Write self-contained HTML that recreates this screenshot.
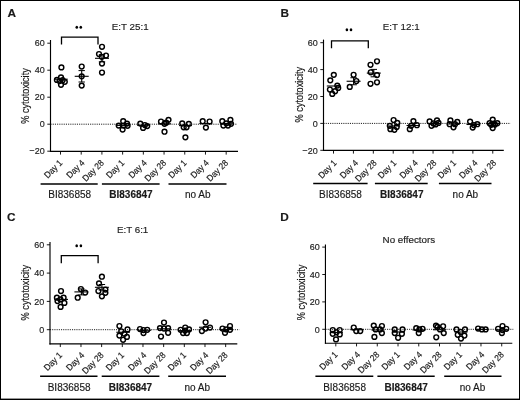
<!DOCTYPE html>
<html><head><meta charset="utf-8"><title>Cytotoxicity figure</title>
<style>
html,body{margin:0;padding:0;background:#fff;}
body{width:520px;height:400px;overflow:hidden;}
svg{display:block;will-change:transform;}
svg text{font-family:"Liberation Sans", sans-serif;fill:#1a1a1a;}
</style></head>
<body>
<svg width="520" height="400" viewBox="0 0 520 400">
<defs><filter id="sb" x="-5%" y="-5%" width="110%" height="110%"><feGaussianBlur stdDeviation="0.3"/></filter></defs>
<rect x="0" y="0" width="520" height="400" fill="#fff"/>
<g stroke="#000" fill="none" stroke-linecap="butt" filter="url(#sb)">
<text stroke="#1a1a1a" stroke-width="0.15" transform="translate(7.6 16.8)" font-size="11.8" text-anchor="start" font-weight="bold" fill="#000">A</text>
<text stroke="#1a1a1a" stroke-width="0.15" transform="translate(130.2 29.6) scale(1 0.95)" font-size="9.8" text-anchor="middle" font-weight="normal" >E:T 25:1</text>
<line x1="50.5" y1="40" x2="50.5" y2="151.97" stroke-width="1.15" />
<line x1="47.3" y1="43.2" x2="50.5" y2="43.2" stroke-width="0.9" />
<text stroke="#1a1a1a" stroke-width="0.15" transform="translate(44.7 46.4) scale(1 1.1)" font-size="9.0" text-anchor="end" font-weight="normal" >60</text>
<line x1="47.3" y1="70.2" x2="50.5" y2="70.2" stroke-width="0.9" />
<text stroke="#1a1a1a" stroke-width="0.15" transform="translate(44.7 73.4) scale(1 1.1)" font-size="9.0" text-anchor="end" font-weight="normal" >40</text>
<line x1="47.3" y1="97.2" x2="50.5" y2="97.2" stroke-width="0.9" />
<text stroke="#1a1a1a" stroke-width="0.15" transform="translate(44.7 100.4) scale(1 1.1)" font-size="9.0" text-anchor="end" font-weight="normal" >20</text>
<line x1="47.3" y1="124.2" x2="50.5" y2="124.2" stroke-width="0.9" />
<text stroke="#1a1a1a" stroke-width="0.15" transform="translate(44.7 127.4) scale(1 1.1)" font-size="9.0" text-anchor="end" font-weight="normal" >0</text>
<line x1="47.3" y1="151.2" x2="50.5" y2="151.2" stroke-width="0.9" />
<text stroke="#1a1a1a" stroke-width="0.15" transform="translate(44.7 154.4) scale(1 1.1)" font-size="9.0" text-anchor="end" font-weight="normal" >−20</text>
<text stroke="#1a1a1a" stroke-width="0.15" transform="translate(29.3 96) rotate(-90) scale(1 1.13)" font-size="9.2" text-anchor="middle" font-weight="normal" >% cytotoxicity</text>
<line x1="49.92" y1="151.4" x2="238" y2="151.4" stroke-width="1.15" />
<line x1="50.5" y1="124.2" x2="237" y2="124.2" stroke-width="0.9" stroke-dasharray="1.1 1.1"/>
<line x1="60.5" y1="151.4" x2="60.5" y2="154.6" stroke-width="0.9" />
<text stroke="#1a1a1a" stroke-width="0.15" transform="translate(63 163.4) rotate(-45) scale(1 1.08)" font-size="8.3" text-anchor="end" font-weight="normal" >Day 1</text>
<line x1="81.21" y1="151.4" x2="81.21" y2="154.6" stroke-width="0.9" />
<text stroke="#1a1a1a" stroke-width="0.15" transform="translate(85.31 163.4) rotate(-45) scale(1 1.08)" font-size="8.3" text-anchor="end" font-weight="normal" >Day 4</text>
<line x1="101.92" y1="151.4" x2="101.92" y2="154.6" stroke-width="0.9" />
<text stroke="#1a1a1a" stroke-width="0.15" transform="translate(104.62 163.4) rotate(-45) scale(1 1.08)" font-size="8.3" text-anchor="end" font-weight="normal" >Day 28</text>
<line x1="122.63" y1="151.4" x2="122.63" y2="154.6" stroke-width="0.9" />
<text stroke="#1a1a1a" stroke-width="0.15" transform="translate(125.13 163.4) rotate(-45) scale(1 1.08)" font-size="8.3" text-anchor="end" font-weight="normal" >Day 1</text>
<line x1="143.34" y1="151.4" x2="143.34" y2="154.6" stroke-width="0.9" />
<text stroke="#1a1a1a" stroke-width="0.15" transform="translate(147.44 163.4) rotate(-45) scale(1 1.08)" font-size="8.3" text-anchor="end" font-weight="normal" >Day 4</text>
<line x1="164.05" y1="151.4" x2="164.05" y2="154.6" stroke-width="0.9" />
<text stroke="#1a1a1a" stroke-width="0.15" transform="translate(166.75 163.4) rotate(-45) scale(1 1.08)" font-size="8.3" text-anchor="end" font-weight="normal" >Day 28</text>
<line x1="184.76" y1="151.4" x2="184.76" y2="154.6" stroke-width="0.9" />
<text stroke="#1a1a1a" stroke-width="0.15" transform="translate(187.26 163.4) rotate(-45) scale(1 1.08)" font-size="8.3" text-anchor="end" font-weight="normal" >Day 1</text>
<line x1="205.47" y1="151.4" x2="205.47" y2="154.6" stroke-width="0.9" />
<text stroke="#1a1a1a" stroke-width="0.15" transform="translate(209.57 163.4) rotate(-45) scale(1 1.08)" font-size="8.3" text-anchor="end" font-weight="normal" >Day 4</text>
<line x1="226.18" y1="151.4" x2="226.18" y2="154.6" stroke-width="0.9" />
<text stroke="#1a1a1a" stroke-width="0.15" transform="translate(228.88 163.4) rotate(-45) scale(1 1.08)" font-size="8.3" text-anchor="end" font-weight="normal" >Day 28</text>
<line x1="40.6" y1="184" x2="97.7" y2="184" stroke-width="1.5" />
<text stroke="#1a1a1a" stroke-width="0.15" transform="translate(69.7 198)" font-size="10.0" text-anchor="middle" font-weight="normal" >BI836858</text>
<line x1="101.9" y1="184" x2="159.6" y2="184" stroke-width="1.5" />
<text stroke="#1a1a1a" stroke-width="0.15" transform="translate(131 198)" font-size="10.0" text-anchor="middle" font-weight="bold" >BI836847</text>
<line x1="168.5" y1="184" x2="226.5" y2="184" stroke-width="1.5" />
<text stroke="#1a1a1a" stroke-width="0.15" transform="translate(197.7 198)" font-size="10.0" text-anchor="middle" font-weight="normal" >no Ab</text>
<polyline points="61.5,44.6 61.5,37.1 98,37.1 98,44.6" fill="none" stroke-width="1.3"/>
<ellipse cx="76.8" cy="27.25" rx="1.3" ry="1.55" fill="#000" stroke="none"/>
<ellipse cx="80.8" cy="27.25" rx="1.3" ry="1.55" fill="#000" stroke="none"/>
<line x1="54.7" y1="79.2" x2="67.7" y2="79.2" stroke-width="1.1" />
<line x1="74.7" y1="76.3" x2="88.7" y2="76.3" stroke-width="1.1" />
<line x1="81.7" y1="70.6" x2="81.7" y2="82" stroke-width="1.1" />
<line x1="78.5" y1="70.6" x2="84.9" y2="70.6" stroke-width="1.0" />
<line x1="78.5" y1="82" x2="84.9" y2="82" stroke-width="1.0" />
<line x1="95" y1="58.3" x2="109" y2="58.3" stroke-width="1.1" />
<line x1="102" y1="54.7" x2="102" y2="61.9" stroke-width="1.1" />
<line x1="98.8" y1="54.7" x2="105.2" y2="54.7" stroke-width="1.0" />
<line x1="98.8" y1="61.9" x2="105.2" y2="61.9" stroke-width="1.0" />
<line x1="116.5" y1="125.4" x2="129.5" y2="125.4" stroke-width="1.1" />
<line x1="137" y1="125.2" x2="150" y2="125.2" stroke-width="1.1" />
<line x1="158" y1="123.8" x2="171" y2="123.8" stroke-width="1.1" />
<line x1="179" y1="125.6" x2="192" y2="125.6" stroke-width="1.1" />
<line x1="199.3" y1="123.6" x2="212.3" y2="123.6" stroke-width="1.1" />
<line x1="220" y1="123.8" x2="233" y2="123.8" stroke-width="1.1" />
<circle cx="61.4" cy="67.4" r="2.4" stroke-width="1.45"/>
<circle cx="56.9" cy="79.9" r="2.4" stroke-width="1.45"/>
<circle cx="61" cy="77.3" r="2.4" stroke-width="1.45"/>
<circle cx="64.8" cy="81.8" r="2.4" stroke-width="1.45"/>
<circle cx="61" cy="84.8" r="2.4" stroke-width="1.45"/>
<circle cx="59.5" cy="81" r="2.4" stroke-width="1.45"/>
<circle cx="62.6" cy="80.2" r="2.4" stroke-width="1.45"/>
<circle cx="81.7" cy="66.5" r="2.4" stroke-width="1.45"/>
<circle cx="81.7" cy="76.3" r="2.4" stroke-width="1.45"/>
<circle cx="81.7" cy="85.6" r="2.4" stroke-width="1.45"/>
<circle cx="102" cy="46.8" r="2.4" stroke-width="1.45"/>
<circle cx="99" cy="54" r="2.4" stroke-width="1.45"/>
<circle cx="106" cy="55.5" r="2.4" stroke-width="1.45"/>
<circle cx="102" cy="63.5" r="2.4" stroke-width="1.45"/>
<circle cx="102" cy="72.5" r="2.4" stroke-width="1.45"/>
<circle cx="101.8" cy="56.8" r="2.4" stroke-width="1.45"/>
<circle cx="118.7" cy="125.6" r="2.4" stroke-width="1.45"/>
<circle cx="123.2" cy="121.2" r="2.4" stroke-width="1.45"/>
<circle cx="127" cy="123.6" r="2.4" stroke-width="1.45"/>
<circle cx="122.6" cy="129.6" r="2.4" stroke-width="1.45"/>
<circle cx="123.5" cy="125.6" r="2.4" stroke-width="1.45"/>
<circle cx="127.6" cy="125.8" r="2.4" stroke-width="1.45"/>
<circle cx="140.3" cy="123.6" r="2.4" stroke-width="1.45"/>
<circle cx="143.1" cy="127.9" r="2.4" stroke-width="1.45"/>
<circle cx="147.2" cy="126.1" r="2.4" stroke-width="1.45"/>
<circle cx="144.9" cy="125" r="2.4" stroke-width="1.45"/>
<circle cx="161" cy="121.5" r="2.4" stroke-width="1.45"/>
<circle cx="168.5" cy="119.8" r="2.4" stroke-width="1.45"/>
<circle cx="164.5" cy="123.8" r="2.4" stroke-width="1.45"/>
<circle cx="164.5" cy="131.7" r="2.4" stroke-width="1.45"/>
<circle cx="166.2" cy="122.7" r="2.4" stroke-width="1.45"/>
<circle cx="182.2" cy="123.3" r="2.4" stroke-width="1.45"/>
<circle cx="188.8" cy="123.8" r="2.4" stroke-width="1.45"/>
<circle cx="183.7" cy="127.3" r="2.4" stroke-width="1.45"/>
<circle cx="186.5" cy="127.3" r="2.4" stroke-width="1.45"/>
<circle cx="185.4" cy="137.3" r="2.4" stroke-width="1.45"/>
<circle cx="202.7" cy="121.2" r="2.4" stroke-width="1.45"/>
<circle cx="209.6" cy="121.5" r="2.4" stroke-width="1.45"/>
<circle cx="205.9" cy="127.6" r="2.4" stroke-width="1.45"/>
<circle cx="222.3" cy="121.2" r="2.4" stroke-width="1.45"/>
<circle cx="230.4" cy="119.8" r="2.4" stroke-width="1.45"/>
<circle cx="223.4" cy="125.6" r="2.4" stroke-width="1.45"/>
<circle cx="228" cy="125.6" r="2.4" stroke-width="1.45"/>
<circle cx="231" cy="123.8" r="2.4" stroke-width="1.45"/>
<circle cx="226.3" cy="123.3" r="2.4" stroke-width="1.45"/>
<text stroke="#1a1a1a" stroke-width="0.15" transform="translate(280.6 16.9)" font-size="11.8" text-anchor="start" font-weight="bold" fill="#000">B</text>
<text stroke="#1a1a1a" stroke-width="0.15" transform="translate(401.2 29.7) scale(1 0.95)" font-size="9.8" text-anchor="middle" font-weight="normal" >E:T 12:1</text>
<line x1="323.5" y1="39.6" x2="323.5" y2="150.97" stroke-width="1.15" />
<line x1="320.3" y1="42.7" x2="323.5" y2="42.7" stroke-width="0.9" />
<text stroke="#1a1a1a" stroke-width="0.15" transform="translate(317.7 45.9) scale(1 1.1)" font-size="9.0" text-anchor="end" font-weight="normal" >60</text>
<line x1="320.3" y1="69.6" x2="323.5" y2="69.6" stroke-width="0.9" />
<text stroke="#1a1a1a" stroke-width="0.15" transform="translate(317.7 72.8) scale(1 1.1)" font-size="9.0" text-anchor="end" font-weight="normal" >40</text>
<line x1="320.3" y1="96.5" x2="323.5" y2="96.5" stroke-width="0.9" />
<text stroke="#1a1a1a" stroke-width="0.15" transform="translate(317.7 99.7) scale(1 1.1)" font-size="9.0" text-anchor="end" font-weight="normal" >20</text>
<line x1="320.3" y1="123.4" x2="323.5" y2="123.4" stroke-width="0.9" />
<text stroke="#1a1a1a" stroke-width="0.15" transform="translate(317.7 126.6) scale(1 1.1)" font-size="9.0" text-anchor="end" font-weight="normal" >0</text>
<line x1="320.3" y1="150.3" x2="323.5" y2="150.3" stroke-width="0.9" />
<text stroke="#1a1a1a" stroke-width="0.15" transform="translate(317.7 153.5) scale(1 1.1)" font-size="9.0" text-anchor="end" font-weight="normal" >−20</text>
<text stroke="#1a1a1a" stroke-width="0.15" transform="translate(302.7 94.7) rotate(-90) scale(1 1.13)" font-size="9.2" text-anchor="middle" font-weight="normal" >% cytotoxicity</text>
<line x1="322.93" y1="150.4" x2="503.8" y2="150.4" stroke-width="1.15" />
<line x1="323.5" y1="123.4" x2="510.6" y2="123.4" stroke-width="0.9" stroke-dasharray="1.1 1.1"/>
<line x1="333.5" y1="150.4" x2="333.5" y2="153.6" stroke-width="0.9" />
<text stroke="#1a1a1a" stroke-width="0.15" transform="translate(337.2 163.6) rotate(-45) scale(1 1.08)" font-size="8.3" text-anchor="end" font-weight="normal" >Day 1</text>
<line x1="353.41" y1="150.4" x2="353.41" y2="153.6" stroke-width="0.9" />
<text stroke="#1a1a1a" stroke-width="0.15" transform="translate(358.71 163.6) rotate(-45) scale(1 1.08)" font-size="8.3" text-anchor="end" font-weight="normal" >Day 4</text>
<line x1="373.32" y1="150.4" x2="373.32" y2="153.6" stroke-width="0.9" />
<text stroke="#1a1a1a" stroke-width="0.15" transform="translate(377.22 163.6) rotate(-45) scale(1 1.08)" font-size="8.3" text-anchor="end" font-weight="normal" >Day 28</text>
<line x1="393.23" y1="150.4" x2="393.23" y2="153.6" stroke-width="0.9" />
<text stroke="#1a1a1a" stroke-width="0.15" transform="translate(396.93 163.6) rotate(-45) scale(1 1.08)" font-size="8.3" text-anchor="end" font-weight="normal" >Day 1</text>
<line x1="413.14" y1="150.4" x2="413.14" y2="153.6" stroke-width="0.9" />
<text stroke="#1a1a1a" stroke-width="0.15" transform="translate(418.44 163.6) rotate(-45) scale(1 1.08)" font-size="8.3" text-anchor="end" font-weight="normal" >Day 4</text>
<line x1="433.05" y1="150.4" x2="433.05" y2="153.6" stroke-width="0.9" />
<text stroke="#1a1a1a" stroke-width="0.15" transform="translate(436.95 163.6) rotate(-45) scale(1 1.08)" font-size="8.3" text-anchor="end" font-weight="normal" >Day 28</text>
<line x1="452.96" y1="150.4" x2="452.96" y2="153.6" stroke-width="0.9" />
<text stroke="#1a1a1a" stroke-width="0.15" transform="translate(456.66 163.6) rotate(-45) scale(1 1.08)" font-size="8.3" text-anchor="end" font-weight="normal" >Day 1</text>
<line x1="472.87" y1="150.4" x2="472.87" y2="153.6" stroke-width="0.9" />
<text stroke="#1a1a1a" stroke-width="0.15" transform="translate(478.17 163.6) rotate(-45) scale(1 1.08)" font-size="8.3" text-anchor="end" font-weight="normal" >Day 4</text>
<line x1="492.78" y1="150.4" x2="492.78" y2="153.6" stroke-width="0.9" />
<text stroke="#1a1a1a" stroke-width="0.15" transform="translate(496.68 163.6) rotate(-45) scale(1 1.08)" font-size="8.3" text-anchor="end" font-weight="normal" >Day 28</text>
<line x1="313.2" y1="183.4" x2="367.6" y2="183.4" stroke-width="1.5" />
<text stroke="#1a1a1a" stroke-width="0.15" transform="translate(340.5 197.6)" font-size="10.0" text-anchor="middle" font-weight="normal" >BI836858</text>
<line x1="374.9" y1="183.4" x2="427.7" y2="183.4" stroke-width="1.5" />
<text stroke="#1a1a1a" stroke-width="0.15" transform="translate(401.8 197.6)" font-size="10.0" text-anchor="middle" font-weight="bold" >BI836847</text>
<line x1="438.9" y1="183.4" x2="491.5" y2="183.4" stroke-width="1.5" />
<text stroke="#1a1a1a" stroke-width="0.15" transform="translate(465.4 197.6)" font-size="10.0" text-anchor="middle" font-weight="normal" >no Ab</text>
<polyline points="331.5,48.3 331.5,40.9 368.3,40.9 368.3,48.3" fill="none" stroke-width="1.3"/>
<ellipse cx="346.9" cy="29.75" rx="1.3" ry="1.55" fill="#000" stroke="none"/>
<ellipse cx="351" cy="29.75" rx="1.3" ry="1.55" fill="#000" stroke="none"/>
<line x1="326.8" y1="86" x2="340.8" y2="86" stroke-width="1.1" />
<line x1="346.6" y1="81.25" x2="360.6" y2="81.25" stroke-width="1.1" />
<line x1="353.6" y1="77.75" x2="353.6" y2="84.75" stroke-width="1.1" />
<line x1="350.4" y1="77.75" x2="356.8" y2="77.75" stroke-width="1.0" />
<line x1="350.4" y1="84.75" x2="356.8" y2="84.75" stroke-width="1.0" />
<line x1="366.8" y1="73.1" x2="380.8" y2="73.1" stroke-width="1.1" />
<line x1="373.8" y1="69.4" x2="373.8" y2="76.8" stroke-width="1.1" />
<line x1="370.6" y1="69.4" x2="377" y2="69.4" stroke-width="1.0" />
<line x1="370.6" y1="76.8" x2="377" y2="76.8" stroke-width="1.0" />
<line x1="387.1" y1="126" x2="400.1" y2="126" stroke-width="1.1" />
<line x1="406.5" y1="125.5" x2="419.5" y2="125.5" stroke-width="1.1" />
<line x1="427.5" y1="123.5" x2="440.5" y2="123.5" stroke-width="1.1" />
<line x1="446.8" y1="124" x2="459.8" y2="124" stroke-width="1.1" />
<line x1="466.5" y1="124.5" x2="479.5" y2="124.5" stroke-width="1.1" />
<line x1="486.5" y1="123.5" x2="499.5" y2="123.5" stroke-width="1.1" />
<circle cx="333.8" cy="74.8" r="2.4" stroke-width="1.45"/>
<circle cx="330.3" cy="80.3" r="2.4" stroke-width="1.45"/>
<circle cx="337.3" cy="85.6" r="2.4" stroke-width="1.45"/>
<circle cx="338.2" cy="87.9" r="2.4" stroke-width="1.45"/>
<circle cx="329.9" cy="89.5" r="2.4" stroke-width="1.45"/>
<circle cx="335.1" cy="91.2" r="2.4" stroke-width="1.45"/>
<circle cx="332.3" cy="93.9" r="2.4" stroke-width="1.45"/>
<circle cx="353.6" cy="74.75" r="2.4" stroke-width="1.45"/>
<circle cx="356.4" cy="81" r="2.4" stroke-width="1.45"/>
<circle cx="349.75" cy="86.9" r="2.4" stroke-width="1.45"/>
<circle cx="377" cy="61.25" r="2.4" stroke-width="1.45"/>
<circle cx="370.5" cy="64.75" r="2.4" stroke-width="1.45"/>
<circle cx="370.75" cy="72.25" r="2.4" stroke-width="1.45"/>
<circle cx="377" cy="75" r="2.4" stroke-width="1.45"/>
<circle cx="370.5" cy="83.75" r="2.4" stroke-width="1.45"/>
<circle cx="377" cy="82.25" r="2.4" stroke-width="1.45"/>
<circle cx="393.6" cy="120" r="2.4" stroke-width="1.45"/>
<circle cx="397.3" cy="122.9" r="2.4" stroke-width="1.45"/>
<circle cx="389.8" cy="125.8" r="2.4" stroke-width="1.45"/>
<circle cx="396.7" cy="126.9" r="2.4" stroke-width="1.45"/>
<circle cx="390.4" cy="129.2" r="2.4" stroke-width="1.45"/>
<circle cx="394.4" cy="129.8" r="2.4" stroke-width="1.45"/>
<circle cx="413.4" cy="121.1" r="2.4" stroke-width="1.45"/>
<circle cx="416.9" cy="125.2" r="2.4" stroke-width="1.45"/>
<circle cx="411.1" cy="125.8" r="2.4" stroke-width="1.45"/>
<circle cx="409.8" cy="129.2" r="2.4" stroke-width="1.45"/>
<circle cx="429.6" cy="121.4" r="2.4" stroke-width="1.45"/>
<circle cx="437" cy="120.3" r="2.4" stroke-width="1.45"/>
<circle cx="431.5" cy="125.8" r="2.4" stroke-width="1.45"/>
<circle cx="435.6" cy="124.4" r="2.4" stroke-width="1.45"/>
<circle cx="438.5" cy="122.9" r="2.4" stroke-width="1.45"/>
<circle cx="433.4" cy="123.4" r="2.4" stroke-width="1.45"/>
<circle cx="450.4" cy="120.4" r="2.4" stroke-width="1.45"/>
<circle cx="457.3" cy="121.9" r="2.4" stroke-width="1.45"/>
<circle cx="453.5" cy="127.3" r="2.4" stroke-width="1.45"/>
<circle cx="449.6" cy="124.2" r="2.4" stroke-width="1.45"/>
<circle cx="455" cy="124.2" r="2.4" stroke-width="1.45"/>
<circle cx="470.1" cy="121.6" r="2.4" stroke-width="1.45"/>
<circle cx="473.9" cy="125" r="2.4" stroke-width="1.45"/>
<circle cx="477.3" cy="124.2" r="2.4" stroke-width="1.45"/>
<circle cx="472.7" cy="127.6" r="2.4" stroke-width="1.45"/>
<circle cx="492.7" cy="119.6" r="2.4" stroke-width="1.45"/>
<circle cx="489.6" cy="123.2" r="2.4" stroke-width="1.45"/>
<circle cx="497.3" cy="123.2" r="2.4" stroke-width="1.45"/>
<circle cx="492.7" cy="128.1" r="2.4" stroke-width="1.45"/>
<circle cx="493.5" cy="123.5" r="2.4" stroke-width="1.45"/>
<circle cx="491.2" cy="124.8" r="2.4" stroke-width="1.45"/>
<circle cx="495" cy="124.6" r="2.4" stroke-width="1.45"/>
<text stroke="#1a1a1a" stroke-width="0.15" transform="translate(7 221.2)" font-size="11.8" text-anchor="start" font-weight="bold" fill="#000">C</text>
<text stroke="#1a1a1a" stroke-width="0.15" transform="translate(132.6 233.4) scale(1 0.95)" font-size="9.8" text-anchor="middle" font-weight="normal" >E:T 6:1</text>
<line x1="50" y1="241.9" x2="50" y2="344.43" stroke-width="1.15" />
<line x1="46.8" y1="244.8" x2="50" y2="244.8" stroke-width="0.9" />
<text stroke="#1a1a1a" stroke-width="0.15" transform="translate(44.2 248) scale(1 1.1)" font-size="9.0" text-anchor="end" font-weight="normal" >60</text>
<line x1="46.8" y1="273.1" x2="50" y2="273.1" stroke-width="0.9" />
<text stroke="#1a1a1a" stroke-width="0.15" transform="translate(44.2 276.3) scale(1 1.1)" font-size="9.0" text-anchor="end" font-weight="normal" >40</text>
<line x1="46.8" y1="301.4" x2="50" y2="301.4" stroke-width="0.9" />
<text stroke="#1a1a1a" stroke-width="0.15" transform="translate(44.2 304.6) scale(1 1.1)" font-size="9.0" text-anchor="end" font-weight="normal" >20</text>
<line x1="46.8" y1="329.7" x2="50" y2="329.7" stroke-width="0.9" />
<text stroke="#1a1a1a" stroke-width="0.15" transform="translate(44.2 332.9) scale(1 1.1)" font-size="9.0" text-anchor="end" font-weight="normal" >0</text>
<text stroke="#1a1a1a" stroke-width="0.15" transform="translate(29 292.6) rotate(-90) scale(1 1.13)" font-size="9.2" text-anchor="middle" font-weight="normal" >% cytotoxicity</text>
<line x1="49.42" y1="343.85" x2="237.3" y2="343.85" stroke-width="1.15" />
<line x1="50" y1="329.7" x2="239.4" y2="329.7" stroke-width="0.9" stroke-dasharray="1.1 1.1"/>
<line x1="60.3" y1="343.85" x2="60.3" y2="347.05" stroke-width="0.9" />
<text stroke="#1a1a1a" stroke-width="0.15" transform="translate(62.8 355.85) rotate(-45) scale(1 1.08)" font-size="8.3" text-anchor="end" font-weight="normal" >Day 1</text>
<line x1="80.97" y1="343.85" x2="80.97" y2="347.05" stroke-width="0.9" />
<text stroke="#1a1a1a" stroke-width="0.15" transform="translate(85.07 355.85) rotate(-45) scale(1 1.08)" font-size="8.3" text-anchor="end" font-weight="normal" >Day 4</text>
<line x1="101.64" y1="343.85" x2="101.64" y2="347.05" stroke-width="0.9" />
<text stroke="#1a1a1a" stroke-width="0.15" transform="translate(104.34 355.85) rotate(-45) scale(1 1.08)" font-size="8.3" text-anchor="end" font-weight="normal" >Day 28</text>
<line x1="122.31" y1="343.85" x2="122.31" y2="347.05" stroke-width="0.9" />
<text stroke="#1a1a1a" stroke-width="0.15" transform="translate(124.81 355.85) rotate(-45) scale(1 1.08)" font-size="8.3" text-anchor="end" font-weight="normal" >Day 1</text>
<line x1="142.98" y1="343.85" x2="142.98" y2="347.05" stroke-width="0.9" />
<text stroke="#1a1a1a" stroke-width="0.15" transform="translate(147.08 355.85) rotate(-45) scale(1 1.08)" font-size="8.3" text-anchor="end" font-weight="normal" >Day 4</text>
<line x1="163.65" y1="343.85" x2="163.65" y2="347.05" stroke-width="0.9" />
<text stroke="#1a1a1a" stroke-width="0.15" transform="translate(166.35 355.85) rotate(-45) scale(1 1.08)" font-size="8.3" text-anchor="end" font-weight="normal" >Day 28</text>
<line x1="184.32" y1="343.85" x2="184.32" y2="347.05" stroke-width="0.9" />
<text stroke="#1a1a1a" stroke-width="0.15" transform="translate(186.82 355.85) rotate(-45) scale(1 1.08)" font-size="8.3" text-anchor="end" font-weight="normal" >Day 1</text>
<line x1="204.99" y1="343.85" x2="204.99" y2="347.05" stroke-width="0.9" />
<text stroke="#1a1a1a" stroke-width="0.15" transform="translate(209.09 355.85) rotate(-45) scale(1 1.08)" font-size="8.3" text-anchor="end" font-weight="normal" >Day 4</text>
<line x1="225.66" y1="343.85" x2="225.66" y2="347.05" stroke-width="0.9" />
<text stroke="#1a1a1a" stroke-width="0.15" transform="translate(228.36 355.85) rotate(-45) scale(1 1.08)" font-size="8.3" text-anchor="end" font-weight="normal" >Day 28</text>
<line x1="40.1" y1="376.3" x2="97.5" y2="376.3" stroke-width="1.5" />
<text stroke="#1a1a1a" stroke-width="0.15" transform="translate(69.1 390.8)" font-size="10.0" text-anchor="middle" font-weight="normal" >BI836858</text>
<line x1="101.7" y1="376.3" x2="159.4" y2="376.3" stroke-width="1.5" />
<text stroke="#1a1a1a" stroke-width="0.15" transform="translate(130.5 390.8)" font-size="10.0" text-anchor="middle" font-weight="bold" >BI836847</text>
<line x1="168.2" y1="376.3" x2="226" y2="376.3" stroke-width="1.5" />
<text stroke="#1a1a1a" stroke-width="0.15" transform="translate(197.3 390.8)" font-size="10.0" text-anchor="middle" font-weight="normal" >no Ab</text>
<polyline points="61.3,263.2 61.3,255.7 98.1,255.7 98.1,263.2" fill="none" stroke-width="1.3"/>
<ellipse cx="76.7" cy="245.75" rx="1.3" ry="1.55" fill="#000" stroke="none"/>
<ellipse cx="80.9" cy="245.75" rx="1.3" ry="1.55" fill="#000" stroke="none"/>
<line x1="54.4" y1="299.4" x2="68" y2="299.4" stroke-width="1.1" />
<line x1="74.4" y1="291.9" x2="88.4" y2="291.9" stroke-width="1.1" />
<line x1="81.4" y1="288.9" x2="81.4" y2="294.9" stroke-width="1.1" />
<line x1="78.2" y1="288.9" x2="84.6" y2="288.9" stroke-width="1.0" />
<line x1="78.2" y1="294.9" x2="84.6" y2="294.9" stroke-width="1.0" />
<line x1="94.9" y1="287.3" x2="108.9" y2="287.3" stroke-width="1.1" />
<line x1="101.9" y1="284.5" x2="101.9" y2="290.1" stroke-width="1.1" />
<line x1="98.7" y1="284.5" x2="105.1" y2="284.5" stroke-width="1.0" />
<line x1="98.7" y1="290.1" x2="105.1" y2="290.1" stroke-width="1.0" />
<line x1="116.3" y1="332.25" x2="129.9" y2="332.25" stroke-width="1.1" />
<line x1="138.2" y1="330.25" x2="151.2" y2="330.25" stroke-width="1.1" />
<line x1="157.5" y1="328.75" x2="170.5" y2="328.75" stroke-width="1.1" />
<line x1="178.5" y1="330.6" x2="191.5" y2="330.6" stroke-width="1.1" />
<line x1="199" y1="327.25" x2="211" y2="327.25" stroke-width="1.1" />
<line x1="219.5" y1="329.4" x2="232.5" y2="329.4" stroke-width="1.1" />
<circle cx="61" cy="291" r="2.4" stroke-width="1.45"/>
<circle cx="56.9" cy="297.7" r="2.4" stroke-width="1.45"/>
<circle cx="63.6" cy="297.7" r="2.4" stroke-width="1.45"/>
<circle cx="57.5" cy="301.1" r="2.4" stroke-width="1.45"/>
<circle cx="64.4" cy="302.9" r="2.4" stroke-width="1.45"/>
<circle cx="60.6" cy="306.9" r="2.4" stroke-width="1.45"/>
<circle cx="60.4" cy="299.4" r="2.4" stroke-width="1.45"/>
<circle cx="80.9" cy="289" r="2.4" stroke-width="1.45"/>
<circle cx="85.2" cy="292.5" r="2.4" stroke-width="1.45"/>
<circle cx="77.7" cy="297.7" r="2.4" stroke-width="1.45"/>
<circle cx="101.9" cy="276.7" r="2.4" stroke-width="1.45"/>
<circle cx="99" cy="283.3" r="2.4" stroke-width="1.45"/>
<circle cx="98.4" cy="291" r="2.4" stroke-width="1.45"/>
<circle cx="105.4" cy="289.6" r="2.4" stroke-width="1.45"/>
<circle cx="105.4" cy="292.8" r="2.4" stroke-width="1.45"/>
<circle cx="101.9" cy="296.3" r="2.4" stroke-width="1.45"/>
<circle cx="119.4" cy="326" r="2.4" stroke-width="1.45"/>
<circle cx="127.5" cy="329.4" r="2.4" stroke-width="1.45"/>
<circle cx="121.25" cy="331.25" r="2.4" stroke-width="1.45"/>
<circle cx="119.4" cy="335.6" r="2.4" stroke-width="1.45"/>
<circle cx="126.9" cy="336.9" r="2.4" stroke-width="1.45"/>
<circle cx="123.1" cy="339.75" r="2.4" stroke-width="1.45"/>
<circle cx="124.4" cy="333.75" r="2.4" stroke-width="1.45"/>
<circle cx="140" cy="329" r="2.4" stroke-width="1.45"/>
<circle cx="143.5" cy="333.1" r="2.4" stroke-width="1.45"/>
<circle cx="147.25" cy="329.75" r="2.4" stroke-width="1.45"/>
<circle cx="143.5" cy="330" r="2.4" stroke-width="1.45"/>
<circle cx="164" cy="322.5" r="2.4" stroke-width="1.45"/>
<circle cx="160" cy="328.1" r="2.4" stroke-width="1.45"/>
<circle cx="168.1" cy="328.1" r="2.4" stroke-width="1.45"/>
<circle cx="164" cy="328.5" r="2.4" stroke-width="1.45"/>
<circle cx="168.1" cy="332.75" r="2.4" stroke-width="1.45"/>
<circle cx="161" cy="336.5" r="2.4" stroke-width="1.45"/>
<circle cx="180.6" cy="329.75" r="2.4" stroke-width="1.45"/>
<circle cx="185.25" cy="327.5" r="2.4" stroke-width="1.45"/>
<circle cx="189" cy="329.4" r="2.4" stroke-width="1.45"/>
<circle cx="183.1" cy="333.1" r="2.4" stroke-width="1.45"/>
<circle cx="186.9" cy="333.1" r="2.4" stroke-width="1.45"/>
<circle cx="185" cy="330.6" r="2.4" stroke-width="1.45"/>
<circle cx="205.6" cy="322.25" r="2.4" stroke-width="1.45"/>
<circle cx="201.9" cy="331" r="2.4" stroke-width="1.45"/>
<circle cx="210" cy="327.5" r="2.4" stroke-width="1.45"/>
<circle cx="205.6" cy="328.5" r="2.4" stroke-width="1.45"/>
<circle cx="222.5" cy="328.5" r="2.4" stroke-width="1.45"/>
<circle cx="230" cy="326" r="2.4" stroke-width="1.45"/>
<circle cx="225" cy="332.75" r="2.4" stroke-width="1.45"/>
<circle cx="230" cy="329.75" r="2.4" stroke-width="1.45"/>
<circle cx="226.25" cy="329.4" r="2.4" stroke-width="1.45"/>
<text stroke="#1a1a1a" stroke-width="0.15" transform="translate(280.3 221.1)" font-size="11.8" text-anchor="start" font-weight="bold" fill="#000">D</text>
<text stroke="#1a1a1a" stroke-width="0.15" transform="translate(408.85 243.2) scale(1 0.95)" font-size="9.8" text-anchor="middle" font-weight="normal" >No effectors</text>
<line x1="325.45" y1="244.5" x2="325.45" y2="343.77" stroke-width="1.15" />
<line x1="322.25" y1="247.1" x2="325.45" y2="247.1" stroke-width="0.9" />
<text stroke="#1a1a1a" stroke-width="0.15" transform="translate(319.65 250.3) scale(1 1.1)" font-size="9.0" text-anchor="end" font-weight="normal" >60</text>
<line x1="322.25" y1="274.5" x2="325.45" y2="274.5" stroke-width="0.9" />
<text stroke="#1a1a1a" stroke-width="0.15" transform="translate(319.65 277.7) scale(1 1.1)" font-size="9.0" text-anchor="end" font-weight="normal" >40</text>
<line x1="322.25" y1="301.9" x2="325.45" y2="301.9" stroke-width="0.9" />
<text stroke="#1a1a1a" stroke-width="0.15" transform="translate(319.65 305.1) scale(1 1.1)" font-size="9.0" text-anchor="end" font-weight="normal" >20</text>
<line x1="322.25" y1="329.3" x2="325.45" y2="329.3" stroke-width="0.9" />
<text stroke="#1a1a1a" stroke-width="0.15" transform="translate(319.65 332.5) scale(1 1.1)" font-size="9.0" text-anchor="end" font-weight="normal" >0</text>
<text stroke="#1a1a1a" stroke-width="0.15" transform="translate(304.8 292.4) rotate(-90) scale(1 1.13)" font-size="9.2" text-anchor="middle" font-weight="normal" >% cytotoxicity</text>
<line x1="324.88" y1="343.2" x2="512.3" y2="343.2" stroke-width="1.15" />
<line x1="325.45" y1="329.3" x2="513.3" y2="329.3" stroke-width="0.9" stroke-dasharray="1.1 1.1"/>
<line x1="335.8" y1="343.2" x2="335.8" y2="346.4" stroke-width="0.9" />
<text stroke="#1a1a1a" stroke-width="0.15" transform="translate(338.3 355.2) rotate(-45) scale(1 1.08)" font-size="8.3" text-anchor="end" font-weight="normal" >Day 1</text>
<line x1="356.54" y1="343.2" x2="356.54" y2="346.4" stroke-width="0.9" />
<text stroke="#1a1a1a" stroke-width="0.15" transform="translate(360.64 355.2) rotate(-45) scale(1 1.08)" font-size="8.3" text-anchor="end" font-weight="normal" >Day 4</text>
<line x1="377.28" y1="343.2" x2="377.28" y2="346.4" stroke-width="0.9" />
<text stroke="#1a1a1a" stroke-width="0.15" transform="translate(379.98 355.2) rotate(-45) scale(1 1.08)" font-size="8.3" text-anchor="end" font-weight="normal" >Day 28</text>
<line x1="398.02" y1="343.2" x2="398.02" y2="346.4" stroke-width="0.9" />
<text stroke="#1a1a1a" stroke-width="0.15" transform="translate(400.52 355.2) rotate(-45) scale(1 1.08)" font-size="8.3" text-anchor="end" font-weight="normal" >Day 1</text>
<line x1="418.76" y1="343.2" x2="418.76" y2="346.4" stroke-width="0.9" />
<text stroke="#1a1a1a" stroke-width="0.15" transform="translate(422.86 355.2) rotate(-45) scale(1 1.08)" font-size="8.3" text-anchor="end" font-weight="normal" >Day 4</text>
<line x1="439.5" y1="343.2" x2="439.5" y2="346.4" stroke-width="0.9" />
<text stroke="#1a1a1a" stroke-width="0.15" transform="translate(442.2 355.2) rotate(-45) scale(1 1.08)" font-size="8.3" text-anchor="end" font-weight="normal" >Day 28</text>
<line x1="460.24" y1="343.2" x2="460.24" y2="346.4" stroke-width="0.9" />
<text stroke="#1a1a1a" stroke-width="0.15" transform="translate(462.74 355.2) rotate(-45) scale(1 1.08)" font-size="8.3" text-anchor="end" font-weight="normal" >Day 1</text>
<line x1="480.98" y1="343.2" x2="480.98" y2="346.4" stroke-width="0.9" />
<text stroke="#1a1a1a" stroke-width="0.15" transform="translate(485.08 355.2) rotate(-45) scale(1 1.08)" font-size="8.3" text-anchor="end" font-weight="normal" >Day 4</text>
<line x1="501.72" y1="343.2" x2="501.72" y2="346.4" stroke-width="0.9" />
<text stroke="#1a1a1a" stroke-width="0.15" transform="translate(504.42 355.2) rotate(-45) scale(1 1.08)" font-size="8.3" text-anchor="end" font-weight="normal" >Day 28</text>
<line x1="315.4" y1="376.2" x2="373.3" y2="376.2" stroke-width="1.5" />
<text stroke="#1a1a1a" stroke-width="0.15" transform="translate(344.55 390.7)" font-size="10.0" text-anchor="middle" font-weight="normal" >BI836858</text>
<line x1="377.4" y1="376.2" x2="434.7" y2="376.2" stroke-width="1.5" />
<text stroke="#1a1a1a" stroke-width="0.15" transform="translate(406.15 390.7)" font-size="10.0" text-anchor="middle" font-weight="bold" >BI836847</text>
<line x1="444.2" y1="376.2" x2="501.5" y2="376.2" stroke-width="1.5" />
<text stroke="#1a1a1a" stroke-width="0.15" transform="translate(472.55 390.7)" font-size="10.0" text-anchor="middle" font-weight="normal" >no Ab</text>
<line x1="329.8" y1="332.5" x2="342.8" y2="332.5" stroke-width="1.1" />
<line x1="350.5" y1="329.75" x2="363.5" y2="329.75" stroke-width="1.1" />
<line x1="371.5" y1="330" x2="384.5" y2="330" stroke-width="1.1" />
<line x1="391.8" y1="332" x2="404.8" y2="332" stroke-width="1.1" />
<line x1="412.5" y1="330" x2="425.5" y2="330" stroke-width="1.1" />
<line x1="433" y1="329.75" x2="446" y2="329.75" stroke-width="1.1" />
<line x1="454.5" y1="332" x2="467.5" y2="332" stroke-width="1.1" />
<line x1="475.2" y1="329.4" x2="488.2" y2="329.4" stroke-width="1.1" />
<line x1="495.5" y1="329.8" x2="508.5" y2="329.8" stroke-width="1.1" />
<circle cx="332.75" cy="330" r="2.4" stroke-width="1.45"/>
<circle cx="339.75" cy="330" r="2.4" stroke-width="1.45"/>
<circle cx="332.75" cy="333.75" r="2.4" stroke-width="1.45"/>
<circle cx="339.75" cy="334.4" r="2.4" stroke-width="1.45"/>
<circle cx="336" cy="339.4" r="2.4" stroke-width="1.45"/>
<circle cx="336.5" cy="332.25" r="2.4" stroke-width="1.45"/>
<circle cx="353.75" cy="327.5" r="2.4" stroke-width="1.45"/>
<circle cx="356.25" cy="331" r="2.4" stroke-width="1.45"/>
<circle cx="360.25" cy="331" r="2.4" stroke-width="1.45"/>
<circle cx="373.75" cy="325.6" r="2.4" stroke-width="1.45"/>
<circle cx="381.9" cy="326" r="2.4" stroke-width="1.45"/>
<circle cx="375.6" cy="329.4" r="2.4" stroke-width="1.45"/>
<circle cx="380" cy="329.4" r="2.4" stroke-width="1.45"/>
<circle cx="381.9" cy="333.1" r="2.4" stroke-width="1.45"/>
<circle cx="374.4" cy="336.9" r="2.4" stroke-width="1.45"/>
<circle cx="394.75" cy="329.4" r="2.4" stroke-width="1.45"/>
<circle cx="402.5" cy="329.4" r="2.4" stroke-width="1.45"/>
<circle cx="394.75" cy="333.1" r="2.4" stroke-width="1.45"/>
<circle cx="401.9" cy="333.75" r="2.4" stroke-width="1.45"/>
<circle cx="398.1" cy="337.75" r="2.4" stroke-width="1.45"/>
<circle cx="416.25" cy="328.1" r="2.4" stroke-width="1.45"/>
<circle cx="422.5" cy="328.75" r="2.4" stroke-width="1.45"/>
<circle cx="418.75" cy="333.1" r="2.4" stroke-width="1.45"/>
<circle cx="419.4" cy="329.4" r="2.4" stroke-width="1.45"/>
<circle cx="436" cy="325.6" r="2.4" stroke-width="1.45"/>
<circle cx="443.1" cy="326.25" r="2.4" stroke-width="1.45"/>
<circle cx="437.5" cy="326.9" r="2.4" stroke-width="1.45"/>
<circle cx="443.75" cy="333.1" r="2.4" stroke-width="1.45"/>
<circle cx="436.25" cy="337.25" r="2.4" stroke-width="1.45"/>
<circle cx="440" cy="329.4" r="2.4" stroke-width="1.45"/>
<circle cx="456.5" cy="329.4" r="2.4" stroke-width="1.45"/>
<circle cx="465" cy="329.4" r="2.4" stroke-width="1.45"/>
<circle cx="457.75" cy="334.75" r="2.4" stroke-width="1.45"/>
<circle cx="464.4" cy="335.6" r="2.4" stroke-width="1.45"/>
<circle cx="461" cy="338.5" r="2.4" stroke-width="1.45"/>
<circle cx="460.6" cy="331.9" r="2.4" stroke-width="1.45"/>
<circle cx="478.1" cy="328.5" r="2.4" stroke-width="1.45"/>
<circle cx="481.9" cy="329.4" r="2.4" stroke-width="1.45"/>
<circle cx="485.6" cy="329.4" r="2.4" stroke-width="1.45"/>
<circle cx="502.5" cy="326" r="2.4" stroke-width="1.45"/>
<circle cx="498.1" cy="328.75" r="2.4" stroke-width="1.45"/>
<circle cx="506.25" cy="328.75" r="2.4" stroke-width="1.45"/>
<circle cx="501.9" cy="333.1" r="2.4" stroke-width="1.45"/>
<circle cx="502.5" cy="330" r="2.4" stroke-width="1.45"/>
</g>
<rect x="0.5" y="0.5" width="519" height="398.8" fill="none" stroke="#000" stroke-width="1"/>
<line x1="0" y1="399.4" x2="520" y2="399.4" stroke="#000" stroke-width="1.2"/>
</svg>
</body></html>
